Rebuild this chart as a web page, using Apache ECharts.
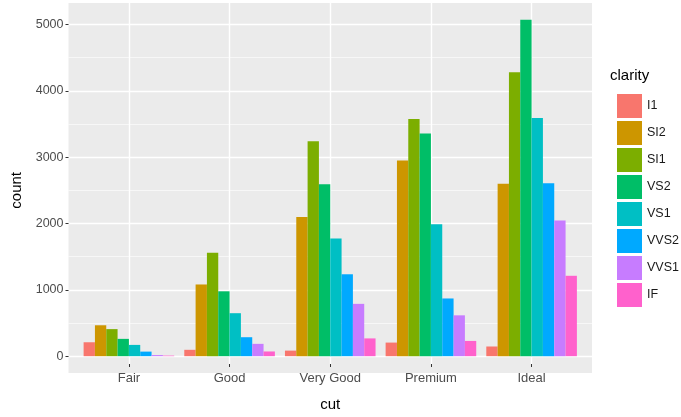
<!DOCTYPE html>
<html><head><meta charset="utf-8">
<script src="https://cdn.jsdelivr.net/npm/echarts@6/dist/echarts.min.js"></script>
<style>html,body{margin:0;padding:0;background:#fff}#c{width:681px;height:417px}</style>
</head><body><div id="c"></div>
<script>
const cuts = ['Fair', 'Good', 'Very Good', 'Premium', 'Ideal'];
const clarities = ['I1', 'SI2', 'SI1', 'VS2', 'VS1', 'VVS2', 'VVS1', 'IF'];
const I1   = [210, 96, 84, 205, 146];
const SI2  = [466, 1081, 2100, 2949, 2598];
const SI1  = [408, 1560, 3240, 3575, 4282];
const VS2  = [261, 978, 2591, 3357, 5071];
const VS1  = [170, 648, 1775, 1989, 3589];
const VVS2 = [69, 286, 1235, 870, 2606];
const VVS1 = [17, 186, 789, 616, 2047];
const IF   = [9, 71, 268, 230, 1212];
const seriesValues = [I1, SI2, SI1, VS2, VS1, VVS2, VVS1, IF];
const yTicks = [0, 1000, 2000, 3000, 4000, 5000];
const colors = ['#F8766D', '#CD9600', '#7CAE00', '#00BE67', '#00BFC4', '#00A9FF', '#C77CFF', '#FF61CC'];

// panel geometry (ggplot-like expansion)
const W = 681, H = 417;
const pL = 68.5, pR = 592, pT = 3, pB = 373;
const allVals = seriesValues.flat();
const dMax = Math.max(...allVals);
const yMin = -0.05 * dMax, yMax = dMax * 1.05;
const pxPerUnit = (pB - pT) / (yMax - yMin);
const y0px = pB - (0 - yMin) * pxPerUnit;
const yTopTick = yTicks[yTicks.length - 1];
const yTopPx = y0px - yTopTick * pxPerUnit;
const band = (pR - pL) / (cuts.length + 0.2);
const barsL = pL + 0.1 * band, barsR = pR - 0.1 * band;
const ctrL = pL + 0.6 * band, ctrR = pR - 0.6 * band;

const FONT = 'Liberation Sans';

const chart = echarts.init(document.getElementById('c'), null, {renderer: 'canvas'});
const option = {
  animation: false,
  backgroundColor: '#ffffff',
  textStyle: {fontFamily: FONT},
  grid: [
    {left: pL, right: W - pR, top: pT, bottom: H - pB, show: true, backgroundColor: '#EBEBEB', borderWidth: 0, z: 0},
    {left: pL, right: W - pR, top: yTopPx, bottom: H - y0px},
    {left: ctrL, right: W - ctrR, top: pT, bottom: H - pB},
    {left: barsL, right: W - barsR, top: pT, bottom: H - pB}
  ],
  xAxis: [
    {gridIndex: 0, type: 'value', show: false, min: 0, max: 1},
    {gridIndex: 1, type: 'value', show: false, min: 0, max: 1},
    {gridIndex: 2, type: 'category', data: cuts, boundaryGap: false, z: 1,
     axisLine: {show: false},
     axisTick: {show: true, length: 3, lineStyle: {color: '#333333', width: 1}},
     axisLabel: {color: '#4D4D4D', fontSize: 13, margin: 8, fontFamily: FONT},
     splitLine: {show: true, lineStyle: {color: '#ffffff', width: 1.4}},
     name: 'cut', nameLocation: 'middle', nameGap: 33,
     nameTextStyle: {color: '#000000', fontSize: 15, fontFamily: FONT}},
    {gridIndex: 3, type: 'category', data: cuts, show: false, boundaryGap: true}
  ],
  yAxis: [
    {gridIndex: 0, type: 'value', show: false, min: 0, max: 1},
    {gridIndex: 1, type: 'value', min: yTicks[0], max: yTopTick, interval: yTicks[1] - yTicks[0], z: 1,
     axisLine: {show: false},
     axisTick: {show: true, length: 3, lineStyle: {color: '#333333', width: 1}},
     axisLabel: {color: '#4D4D4D', fontSize: 12.5, margin: 5, fontFamily: FONT, formatter: v => String(v)},
     splitLine: {show: true, lineStyle: {color: '#ffffff', width: 1.4}},
     minorTick: {show: false, splitNumber: 2},
     minorSplitLine: {show: true, lineStyle: {color: '#ffffff', width: 0.6}},
     name: 'count', nameLocation: 'middle', nameGap: 43, nameRotate: 90,
     nameTextStyle: {color: '#000000', fontSize: 15, fontFamily: FONT}},
    {gridIndex: 2, type: 'value', show: false, min: 0, max: 1},
    {gridIndex: 3, type: 'value', show: false, min: yMin, max: yMax}
  ],
  legend: {
    orient: 'vertical', left: 612, top: 89,
    itemWidth: 25, itemHeight: 24, itemGap: 3,
    icon: 'rect',
    data: clarities,
    textStyle: {color: '#1a1a1a', fontSize: 12.5, fontFamily: FONT}
  },
  graphic: [
    {type: 'text', left: 610, top: 68, style: {text: 'clarity', fill: '#000000', font: '15px "Liberation Sans"'}}
  ],
  series: clarities.map((name, i) => ({
    name: name, type: 'bar', xAxisIndex: 3, yAxisIndex: 3,
    data: seriesValues[i],
    itemStyle: {color: colors[i]},
    barGap: '0%', barCategoryGap: '10%',
    z: 3
  }))
};
chart.setOption(option);
</script>
</body></html>
